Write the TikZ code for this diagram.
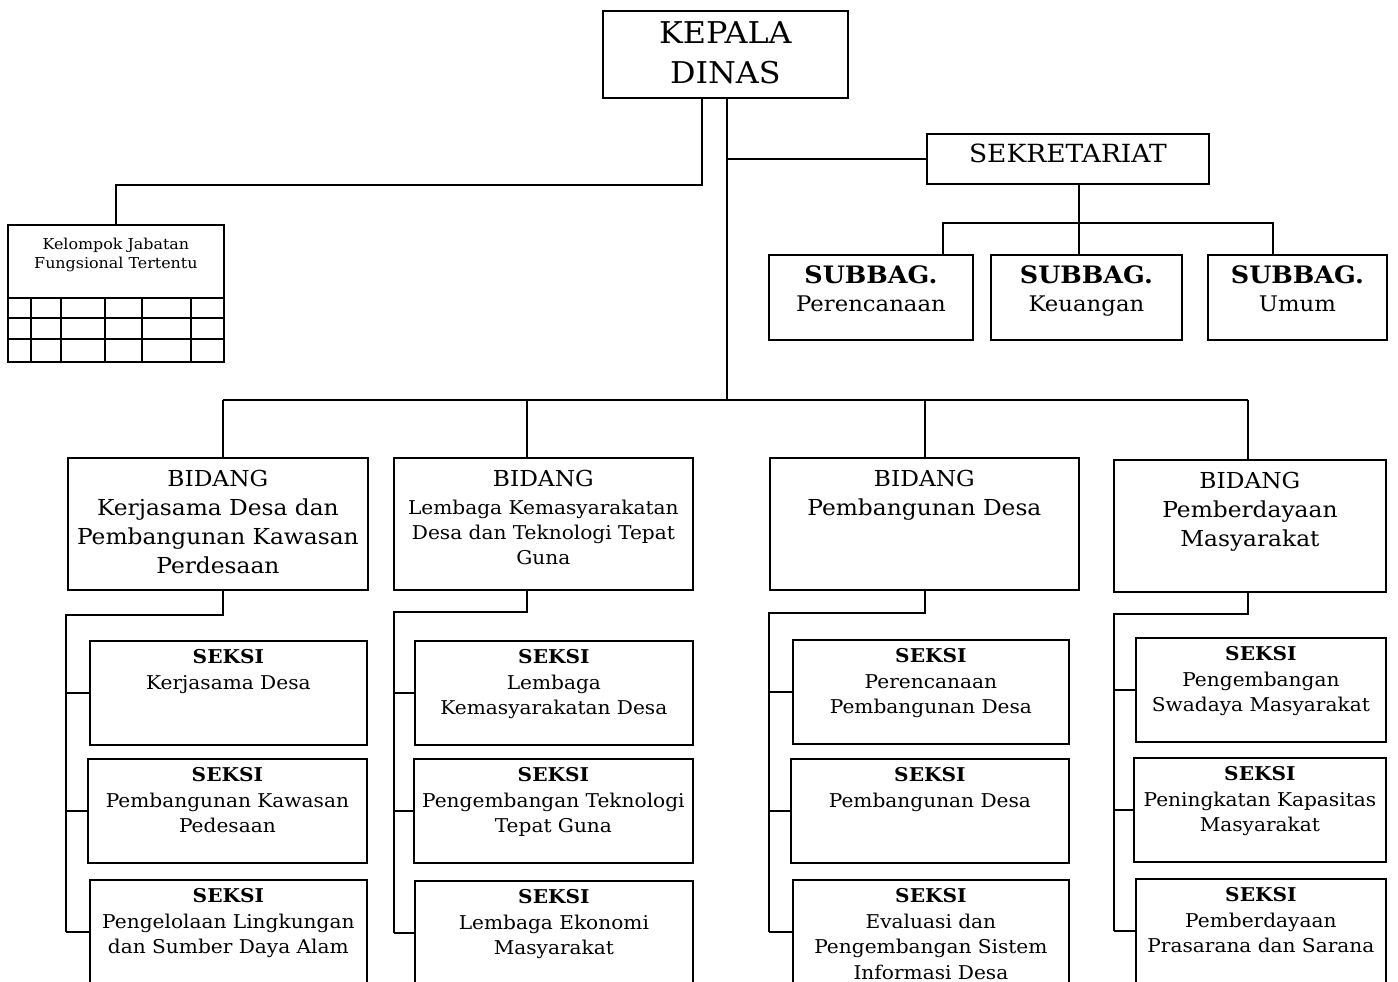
\documentclass[tikz,border=0pt]{standalone}
\usepackage{fontspec}
\setmainfont{DejaVu Serif}[FakeStretch=1.06]

\begin{document}
\begin{tikzpicture}
	% Styles
	[
	x=1pt, y=-1pt,
	box/.style={draw, line width=1.8pt, inner sep=0pt, anchor=north west},
	subbag/.style={box, minimum width=#1, minimum height=85pt},
	bidang/.style={box, minimum width=#1, minimum height=132pt},
	seksi/.style={box, minimum width=#1, minimum height=104pt},
	words/.style={anchor=north, align=center, inner sep=0pt, text width=#1, execute at begin node=\strut},
	subtext/.style={words=#1, font=\fontsize{21.5}{28}\selectfont},
	bidtext/.style={words=#1, font=\fontsize{22}{29}\selectfont},
	seksitext/.style={words=#1, font=\fontsize{19}{25.5}\selectfont},
	link/.style={line width=1.6pt},
	]

	\useasboundingbox (0,0) rectangle (1398,982);
	\clip (0,0) rectangle (1398,982);

	% Nodes
	\node at (602,10)	(kd)	[box, minimum width=245pt, minimum height=87pt] {};
	\node at ([yshift=-5.3pt]kd.north)	(kdt)	[words=240pt, font=\fontsize{30}{40}\selectfont] {KEPALA\\DINAS};

	\node at (7,224)	(kf)	[box, minimum width=216pt, minimum height=137pt] {};
	\node at ([yshift=-11.7pt]kf.north)	(kft)	[words=210pt, font=\fontsize{15}{19}\selectfont] {Kelompok Jabatan\\Fungsional Tertentu};

	\node at (926,133)	(sk)	[box, minimum width=282pt, minimum height=50pt] {};
	\node at ([yshift=-6.6pt]sk.north)	(skt)	[words=276pt, font=\fontsize{25}{32}\selectfont] {SEKRETARIAT};

	\node at (768,254)	(sb1)	[subbag=204pt] {};
	\node at (990,254)	(sb2)	[subbag=191pt] {};
	\node at (1207,254)	(sb3)	[subbag=179pt] {};
	\node at ([yshift=-9.4pt]sb1.north)	(sb1t)	[subtext=198pt] {{\bfseries\fontsize{24}{28}\selectfont SUBBAG.}\\Perencanaan};
	\node at ([yshift=-9.4pt]sb2.north)	(sb2t)	[subtext=185pt] {{\bfseries\fontsize{24}{28}\selectfont SUBBAG.}\\Keuangan};
	\node at ([yshift=-9.4pt]sb3.north)	(sb3t)	[subtext=173pt] {{\bfseries\fontsize{24}{28}\selectfont SUBBAG.}\\Umum};

	\node at (67,457)	(b1)	[bidang=300pt] {};
	\node at (393,457)	(b2)	[bidang=299pt] {};
	\node at (769,457)	(b3)	[bidang=309pt] {};
	\node at (1113,459)	(b4)	[bidang=272pt] {};
	\node at ([yshift=-8.7pt]b1.north)	(b1t)	[bidtext=294pt] {BIDANG\\Kerjasama Desa dan\\Pembangunan Kawasan\\Perdesaan};
	\node at ([yshift=-11.5pt]b2.north)	(b2t)	[words=293pt, font=\fontsize{19}{25}\selectfont] {{\fontsize{22}{29}\selectfont BIDANG}\\[3pt]Lembaga Kemasyarakatan\\Desa dan Teknologi Tepat\\Guna};
	\node at ([yshift=-8.7pt]b3.north)	(b3t)	[bidtext=303pt] {BIDANG\\Pembangunan Desa};
	\node at ([yshift=-8.7pt]b4.north)	(b4t)	[bidtext=266pt] {BIDANG\\Pemberdayaan\\Masyarakat};

	\node at (89,640)	(s11)	[seksi=277pt] {};
	\node at (87,758)	(s12)	[seksi=279pt] {};
	\node at (89,879)	(s13)	[seksi=277pt] {};
	\node at (414,640)	(s21)	[seksi=278pt] {};
	\node at (413,758)	(s22)	[seksi=279pt] {};
	\node at (414,880)	(s23)	[seksi=278pt] {};
	\node at (792,639)	(s31)	[seksi=276pt] {};
	\node at (790,758)	(s32)	[seksi=278pt] {};
	\node at (792,879)	(s33)	[seksi=276pt] {};
	\node at (1135,637)	(s41)	[seksi=250pt] {};
	\node at (1133,757)	(s42)	[seksi=252pt] {};
	\node at (1135,878)	(s43)	[seksi=250pt] {};

	\node at ([yshift=-5.5pt]s11.north)	(s11t)	[seksitext=271pt] {\textbf{SEKSI}\\Kerjasama Desa};
	\node at ([yshift=-5.5pt]s12.north)	(s12t)	[seksitext=273pt] {\textbf{SEKSI}\\Pembangunan Kawasan\\Pedesaan};
	\node at ([yshift=-5.5pt]s13.north)	(s13t)	[seksitext=271pt] {\textbf{SEKSI}\\Pengelolaan Lingkungan\\dan Sumber Daya Alam};
	\node at ([yshift=-5.5pt]s21.north)	(s21t)	[seksitext=272pt] {\textbf{SEKSI}\\Lembaga\\Kemasyarakatan Desa};
	\node at ([yshift=-5.5pt]s22.north)	(s22t)	[seksitext=273pt] {\textbf{SEKSI}\\Pengembangan Teknologi\\Tepat Guna};
	\node at ([yshift=-5.5pt]s23.north)	(s23t)	[seksitext=272pt] {\textbf{SEKSI}\\Lembaga Ekonomi\\Masyarakat};
	\node at ([yshift=-5.5pt]s31.north)	(s31t)	[seksitext=270pt] {\textbf{SEKSI}\\Perencanaan\\Pembangunan Desa};
	\node at ([yshift=-5.5pt]s32.north)	(s32t)	[seksitext=272pt] {\textbf{SEKSI}\\Pembangunan Desa};
	\node at ([yshift=-5.5pt]s33.north)	(s33t)	[seksitext=270pt] {\textbf{SEKSI}\\Evaluasi dan\\Pengembangan Sistem\\Informasi Desa};
	\node at ([yshift=-5.5pt]s41.north)	(s41t)	[seksitext=246pt] {\textbf{SEKSI}\\Pengembangan\\Swadaya Masyarakat};
	\node at ([yshift=-5.5pt]s42.north)	(s42t)	[seksitext=248pt] {\textbf{SEKSI}\\Peningkatan Kapasitas\\Masyarakat};
	\node at ([yshift=-5.5pt]s43.north)	(s43t)	[seksitext=246pt] {\textbf{SEKSI}\\Pemberdayaan\\Prasarana dan Sarana};

	% Grid under Kelompok Jabatan
	\foreach \y in {298,318,339}
		\draw[link] (7,\y) -- (223,\y);
	\foreach \x in {31,61,105,142,191}
		\draw[link] (\x,298) -- (\x,361);

	% Connections
	\coordinate (kj)	at (702,185);
	\coordinate (hub)	at (727,400);
	\coordinate (sbl)	at (943,223);
	\coordinate (sbr)	at (1273,223);
	\coordinate (d1)	at (223,400);
	\coordinate (d2)	at (527,400);
	\coordinate (d3)	at (925,400);
	\coordinate (d4)	at (1248,400);
	\coordinate (e1)	at (66,615);
	\coordinate (e2)	at (394,612);
	\coordinate (e3)	at (769,613);
	\coordinate (e4)	at (1114,614);

	\draw[link] (kj |- kd.south) -- (kj) -| (kf.north);
	\draw[link] (hub |- kd.south) -- (hub);
	\draw[link] (hub |- sk.west) -- (sk.west);
	\draw[link] ([xshift=11pt]sk.south) -- ([xshift=11pt]sk.south |- sb2.north);
	\draw[link] (sbl |- sb1.north) -- (sbl) -- (sbr) -- (sbr |- sb3.north);

	\draw[link] (d1) -- (d4);
	\foreach \i in {1,...,4}
		\draw[link] (d\i) -- (d\i |- b\i.north);
	\foreach \i in {1,...,4}
		\draw[link] (d\i |- b\i.south) |- (e\i) -- (e\i |- s\i3.west);
	\foreach \i in {1,...,4}
		\foreach \j in {1,2,3}
			\draw[link] (e\i |- s\i\j.west) -- (s\i\j.west);

\end{tikzpicture}
\end{document}
